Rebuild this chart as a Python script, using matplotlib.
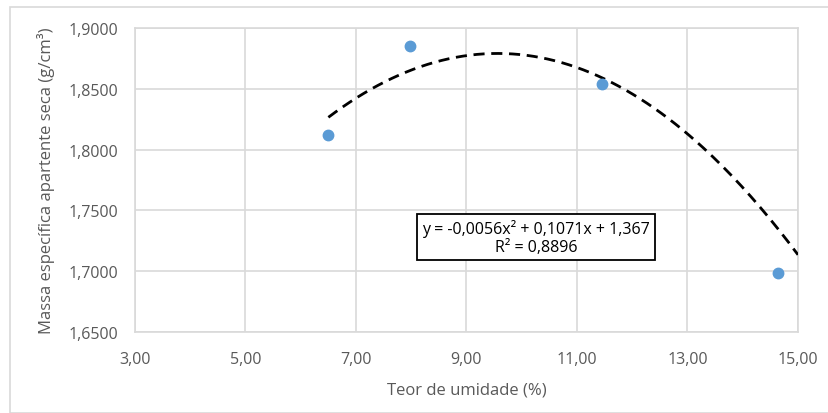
import numpy as np
import matplotlib
matplotlib.use('Agg')
import matplotlib.pyplot as plt
from matplotlib.patches import Rectangle

# moisture content (%) and dry density (g/cm3)
umidade = [6.50, 7.97, 11.46, 14.64]
massa = [1.8117, 1.8849, 1.8542, 1.6987]

# polynomial trendline coefficients (from the chart label)
coef = [-0.0056, 0.1071, 1.367]
trend_x0, trend_x1 = 6.5, 15.0
eq_text = 'y = -0,0056x² + 0,1071x + 1,367\nR² = 0,8896'

xticks = [3, 5, 7, 9, 11, 13, 15]
yticks = [1.65, 1.70, 1.75, 1.80, 1.85, 1.90]

plt.rcParams['font.family'] = ['Open Sans', 'DejaVu Sans']
gray = '#595959'

fig = plt.figure(figsize=(8.29, 4.14), dpi=100)
ax = fig.add_axes([135/829, 1 - 333/414, (798-135)/829, (333-29)/414])

# outer chart border
fig.patches.append(Rectangle((10/829, 0), 1, 1 - 8/414, transform=fig.transFigure,
                             fill=False, edgecolor='#d9d9d9', lw=1.2))

xs = np.linspace(trend_x0, trend_x1, 200)
ax.plot(xs, np.polyval(coef, xs), color='black', lw=2.0, dashes=(4, 2.4), zorder=3)
ax.plot(umidade, massa, 'o', color='#5b9bd5', ms=7.5, zorder=4)

ax.set_xlim(3, 15)
ax.set_ylim(1.65, 1.90)
ax.set_xticks(xticks)
ax.set_yticks(yticks)
ax.set_xticklabels([f'{v:.2f}'.replace('.', ',') for v in xticks])
ax.set_yticklabels([f'{v:.4f}'.replace('.', ',') for v in yticks])
ax.tick_params(length=0, labelsize=11.5, labelcolor=gray)
ax.tick_params(axis='x', pad=14)
ax.tick_params(axis='y', pad=12)
ax.grid(True, color='#d9d9d9', lw=1.2)
ax.set_axisbelow(True)
for s in ax.spines.values():
    s.set_color('#d9d9d9')
    s.set_linewidth(1.2)

ax.set_xlabel('Teor de umidade (%)', fontsize=12, color=gray, labelpad=10)
ax.set_ylabel('Massa específica apartente seca (g/cm³)', fontsize=12, color=gray, labelpad=10)

ax.text(0.605, 0.313, eq_text, transform=ax.transAxes, ha='center', va='center',
        fontsize=11.5, color='black', linespacing=1.15,
        bbox=dict(boxstyle='square,pad=0.3', fc='white', ec='black', lw=1.3), zorder=5)

fig.savefig('out.png', dpi=100)
